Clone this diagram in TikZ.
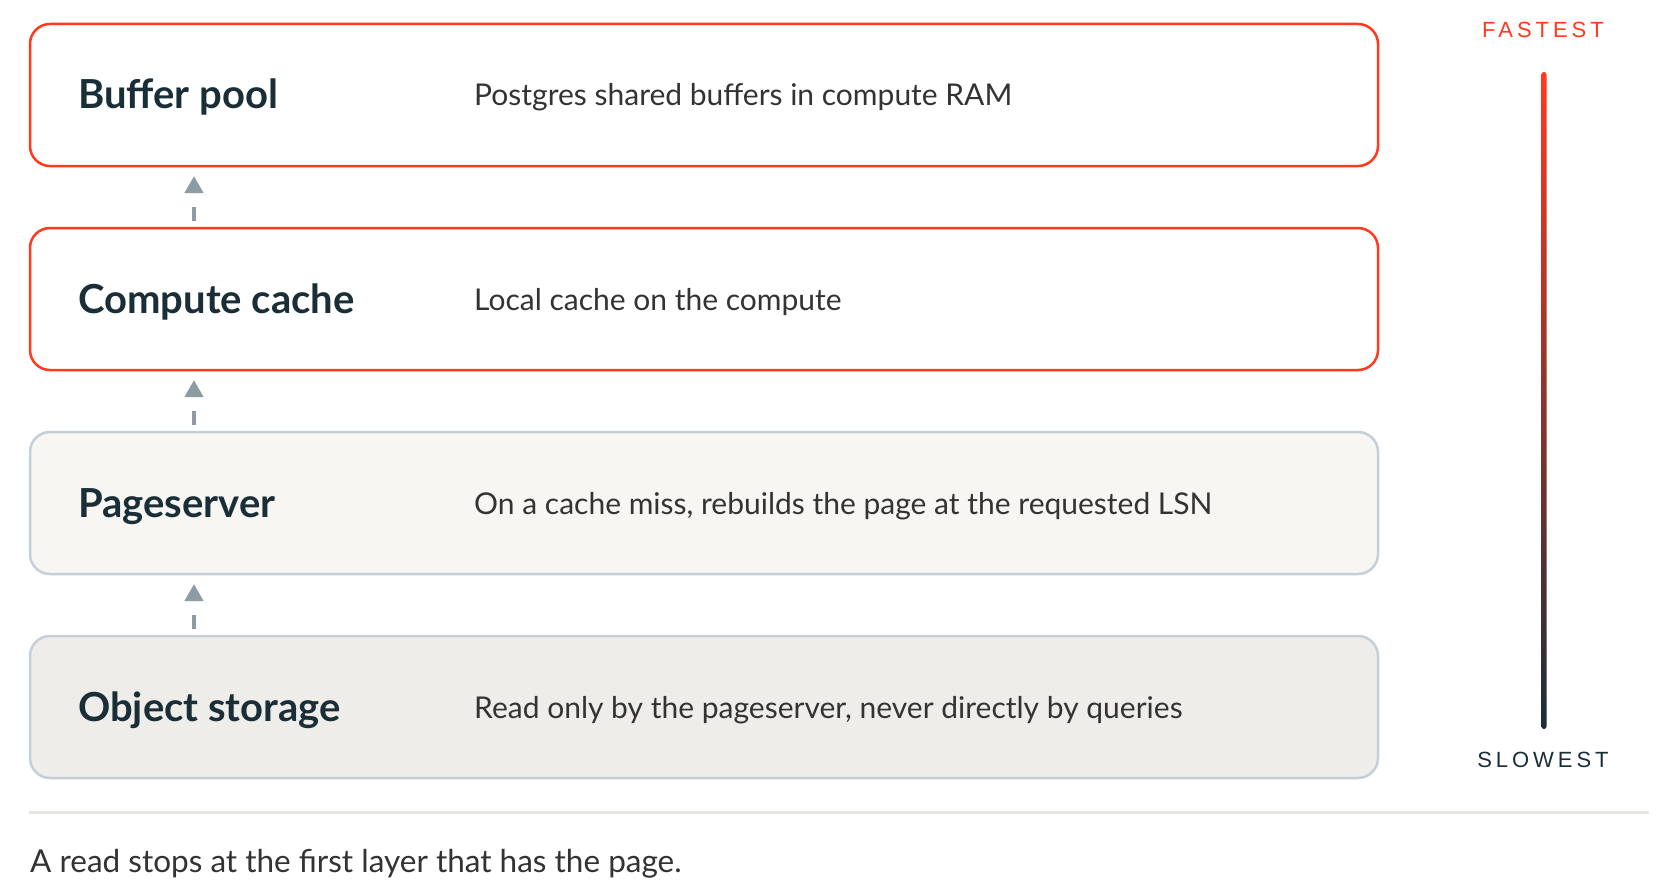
\documentclass[tikz,border=0pt]{standalone}
\usepackage{fontspec}
\setmainfont{Lato}
\newfontfamily\headfont{Lato}
\newfontfamily\labfont[LetterSpace=18]{Liberation Sans}
\usetikzlibrary{arrows.meta}
\definecolor{neonred}{HTML}{FF3A1F}
\definecolor{inkdark}{HTML}{1A2E38}
\definecolor{desctext}{HTML}{333333}
\definecolor{psfill}{HTML}{F7F6F3}
\definecolor{osfill}{HTML}{EEEDEA}
\definecolor{greyborder}{HTML}{C6CFD8}
\definecolor{arrowgrey}{HTML}{8C9CA3}
\definecolor{sepline}{HTML}{E7E5E0}
\tikzset{
  layerbox/.style={rectangle, rounded corners=20pt, minimum width=1348pt, minimum height=142pt,
    anchor=north west, inner sep=0pt, outer sep=0pt, line width=2.5pt},
  hotbox/.style={layerbox, draw=neonred, fill=white},
  psbox/.style={layerbox, draw=greyborder, fill=psfill},
  osbox/.style={layerbox, draw=greyborder, fill=osfill},
  heading/.style={anchor=base west, inner sep=0pt, text=inkdark, font=\headfont\bfseries\fontsize{40}{44}\selectfont},
  desc/.style={anchor=base west, inner sep=0pt, text=desctext, font=\fontsize{30}{34}\selectfont},
  captext/.style={anchor=base west, inner sep=0pt, text=desctext, font=\fontsize{31.5}{36}\selectfont},
  readarrow/.style={draw=arrowgrey, line width=4pt, dash pattern=on 14pt off 14pt,
    -{Triangle[length=17pt,width=18pt]}, shorten <=7pt, shorten >=10pt},
  speedlabel/.style={anchor=base, inner sep=0pt, font=\labfont\fontsize{22}{26}\selectfont}
}
\begin{document}
\begin{tikzpicture}[x=1pt, y=-1pt]
\useasboundingbox (0,0) rectangle (1662,888);
\fill[white] (0,0) rectangle (1662,888);

% boxes
\node[hotbox] (b1) at (30,24) {};
\node[hotbox] (b2) at (30,228) {};
\node[psbox] (b3) at (30,432) {};
\node[osbox] (b4) at (30,636) {};

% headings
\node[heading] (h1) at (78,109) {Buffer pool};
\node[heading] (h2) at (78,313) {Compute cache};
\node[heading] (h3) at (78,517) {Pageserver};
\node[heading] (h4) at (78,721) {Object storage};

% descriptions
\node[desc] (d1) at (474,106) {Postgres shared buffers in compute RAM};
\node[desc] (d2) at (474,310) {Local cache on the compute};
\node[desc] (d3) at (474,514) {On a cache miss, rebuilds the page at the requested LSN};
\node[desc] (d4) at (474,718) {Read only by the pageserver, never directly by queries};

% arrows
\coordinate (ax) at (194,0);
\draw[readarrow] (b2.north -| ax) -- (b1.south -| ax);
\draw[readarrow] (b3.north -| ax) -- (b2.south -| ax);
\draw[readarrow] (b4.north -| ax) -- (b3.south -| ax);

% speed bar
\node[speedlabel, text=neonred] (fast) at (1543,38) {FASTEST};
\node[speedlabel, text=inkdark] (slow) at (1543,767) {SLOWEST};
\shade[top color=neonred, bottom color=inkdark, rounded corners=2.5pt] (1541.5,72) rectangle (1546.5,729);

% separator and caption
\coordinate (s1) at (29,812);
\coordinate (s2) at (1649,812);
\draw[sepline, line width=3pt] (s1) -- (s2);
\node[captext] (cap) at (30,872) {A read stops at the first layer that has the page.};
\end{tikzpicture}
\end{document}
